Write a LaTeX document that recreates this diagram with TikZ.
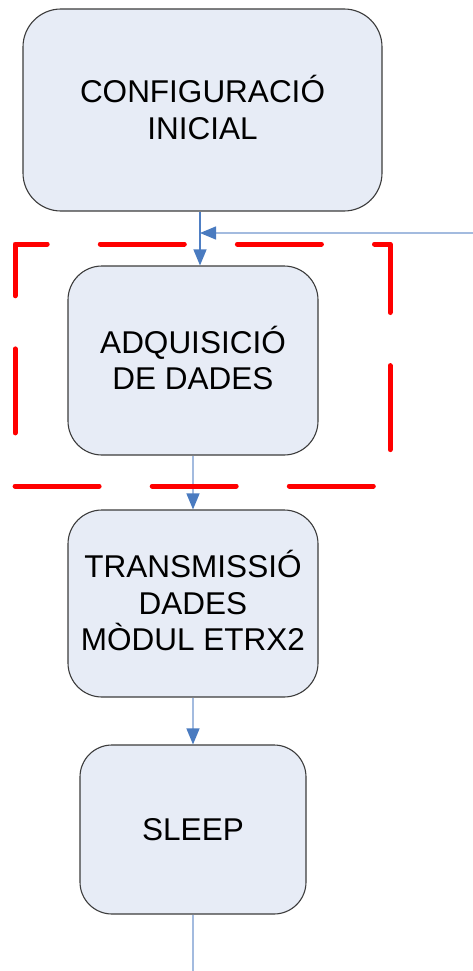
\documentclass[tikz,border=0pt]{standalone}
\usepackage{fontspec}
\setmainfont{Liberation Sans}
\usetikzlibrary{arrows.meta}
\definecolor{boxfill}{HTML}{E7ECF6}
\definecolor{boxline}{HTML}{3C3C3C}
\definecolor{linkline}{HTML}{A3BBDF}
\definecolor{linkdark}{HTML}{4F7FC4}
\definecolor{tipblue}{HTML}{4A7BC0}
\begin{document}
\begin{tikzpicture}[x=1pt,y=-1pt,
  box/.style={draw=boxline, line width=1.1pt, fill=boxfill, align=center,
    font=\fontsize{31.5}{36.5}\selectfont, inner sep=0pt},
  arr/.style={line width=1.3pt, draw=linkline,
    -{Triangle[length=16pt,width=13pt,color=tipblue]}},
  plain/.style={line width=1.3pt, draw=linkline}]
\useasboundingbox (0,0) rectangle (473,971);

% process boxes (accents smashed so the capitals stay centred)
\node[box, rounded corners=38pt, minimum width=359pt, minimum height=202pt]
  (cfg) at (202.5,110) {CONFIGURACI\smash{Ó}\\INICIAL};
\node[box, rounded corners=34pt, minimum width=250pt, minimum height=189pt]
  (acq) at (193,360.5) {ADQUISICI\smash{Ó}\\DE DADES};
\node[box, rounded corners=34pt, minimum width=250pt, minimum height=187pt]
  (tx) at (193,603.5) {TRANSMISSI\smash{Ó}\\DADES\\MÒDUL ETRX2};
\node[box, rounded corners=32pt, minimum width=226pt, minimum height=169pt]
  (slp) at (193,829.5) {SLEEP};

% helper points for the connectors
\coordinate (jx) at (200,0);
\coordinate (loop) at (473,233);
\coordinate (tail) at (193,971);

% connectors
\draw[arr, draw=linkdark] (cfg.south -| jx) -- (acq.north -| jx);
\draw[arr] (loop) -- (loop -| jx);
\draw[arr] (acq.south) -- (tx.north);
\draw[arr] (tx.south) -- (slp.north);
\draw[plain] (slp.south) -- (tail);

% highlight frame around the acquisition step
\draw[red, line width=5pt, line cap=round, line join=round,
  dash pattern=on 84pt off 53.1pt, dash phase=84pt]
  (15,486) -- (15,244) -- (390,244) -- (390,486) -- cycle;
\end{tikzpicture}
\end{document}
